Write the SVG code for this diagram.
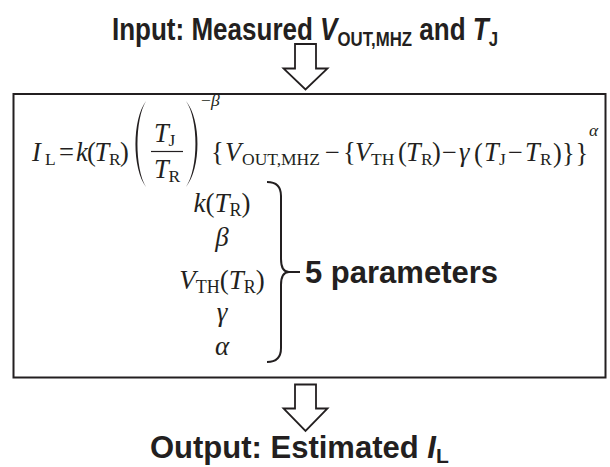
<svg xmlns="http://www.w3.org/2000/svg" width="610" height="467" viewBox="0 0 610 467">
<style>
.hd{font-family:"Liberation Sans",Arial,sans-serif;font-weight:bold;fill:#231f20}
.m{font-family:"Liberation Serif","Times New Roman",serif;font-size:26.5px;fill:#231f20}
.p{font-family:"Liberation Serif","Times New Roman",serif;font-size:27px;fill:#231f20}
.i{font-style:italic}
.s{font-size:17.5px}
.arrow{fill:#fff;stroke:#231f20;stroke-width:1.8;stroke-linejoin:miter}
.paren{fill:#231f20;stroke:none}
</style>
<rect width="610" height="467" fill="#fff"/>

<g id="input">
<text class="hd" font-size="31" transform="translate(305,40) scale(0.84,1)" text-anchor="middle">Input: Measured <tspan font-style="italic">V</tspan><tspan font-size="20" dy="6">OUT,MHZ</tspan><tspan dy="-6"> and </tspan><tspan font-style="italic">T</tspan><tspan font-size="20" dy="6">J</tspan></text>
</g>

<g id="connectors">
<polygon class="arrow" points="295,44 316,44 316,68.5 327.5,68.5 305.5,89.5 283.5,68.5 295,68.5"/>
<polygon class="arrow" points="295,384.5 316,384.5 316,408.5 327.5,408.5 305.5,431 283.5,408.5 295,408.5"/>
</g>

<g id="model">
<rect x="13.5" y="94" width="592" height="283.5" fill="none" stroke="#231f20" stroke-width="2"/>
<text class="m i" x="32" y="161">I</text>
<text class="m s" x="45" y="165">L</text>
<text class="m" x="59" y="161">=</text>
<text class="m i" x="76" y="161">k</text>
<text class="m" x="87" y="161">(</text>
<text class="m i" x="94.5" y="161">T</text>
<text class="m s" x="109" y="165">R</text>
<text class="m" x="120" y="161">)</text>
<path class="paren" d="M146,101 C132,120 132,168 146,187 C134.7,168 134.7,120 146,101 Z"/>
<text class="m i" x="154" y="142">T</text>
<text class="m s" x="168.5" y="146">J</text>
<line x1="151" y1="151.5" x2="183" y2="151.5" stroke="#231f20" stroke-width="1.2"/>
<text class="m i" x="154" y="178">T</text>
<text class="m s" x="168.5" y="182">R</text>
<path class="paren" d="M186,101 C201.3,120 201.3,168 186,187 C198.7,168 198.7,120 186,101 Z"/>
<text class="m s" x="201" y="106">−<tspan font-style="italic">β</tspan></text>
<text class="m" x="211" y="161">{</text>
<text class="m i" x="225" y="161">V</text>
<text class="m s" x="242" y="165">OUT,MHZ</text>
<text class="m" x="325" y="161">−</text>
<text class="m" x="343" y="161">{</text>
<text class="m i" x="355" y="161">V</text>
<text class="m s" x="371" y="165">TH</text>
<text class="m" x="398" y="161">(</text>
<text class="m i" x="406" y="161">T</text>
<text class="m s" x="421" y="165">R</text>
<text class="m" x="432" y="161">)</text>
<text class="m" x="442" y="161">−</text>
<text class="m i" x="459" y="161">γ</text>
<text class="m" x="474" y="162" font-size="27.5">(</text>
<text class="m i" x="484" y="161">T</text>
<text class="m s" x="499" y="165">J</text>
<text class="m" x="508" y="161">−</text>
<text class="m i" x="525" y="161">T</text>
<text class="m s" x="540" y="165">R</text>
<text class="m" x="553" y="162" font-size="27.5">)</text>
<text class="m" x="562" y="162" font-size="27.5">}</text>
<text class="m" x="575.5" y="162" font-size="27.5">}</text>
<text class="m s i" x="589" y="136">α</text>
<text class="p" x="222" y="212" text-anchor="middle"><tspan font-style="italic">k</tspan>(<tspan font-style="italic">T</tspan><tspan font-size="18" dy="4">R</tspan><tspan dy="-4">)</tspan></text>
<text class="p i" x="222" y="246" text-anchor="middle">β</text>
<text class="p" x="222" y="289" text-anchor="middle"><tspan font-style="italic">V</tspan><tspan font-size="18" dy="4">TH</tspan><tspan dy="-4">(</tspan><tspan font-style="italic">T</tspan><tspan font-size="18" dy="4">R</tspan><tspan dy="-4">)</tspan></text>
<text class="p i" x="222" y="321" text-anchor="middle">γ</text>
<text class="p i" x="222" y="355" text-anchor="middle">α</text>
<path d="M267,182 Q281,182 281,196 L281,259 Q281,272 289,272 Q281,272 281,285 L281,348 Q281,362 267,362" fill="none" stroke="#231f20" stroke-width="2"/>
<line x1="288" y1="272" x2="300" y2="272" stroke="#231f20" stroke-width="2"/>
<text class="hd" x="305" y="283" font-size="31">5 parameters</text>
</g>

<g id="output">
<text class="hd" x="150" y="458" font-size="31">Output: Estimated <tspan font-style="italic">I</tspan><tspan font-size="21" dy="5">L</tspan></text>
</g>
</svg>
